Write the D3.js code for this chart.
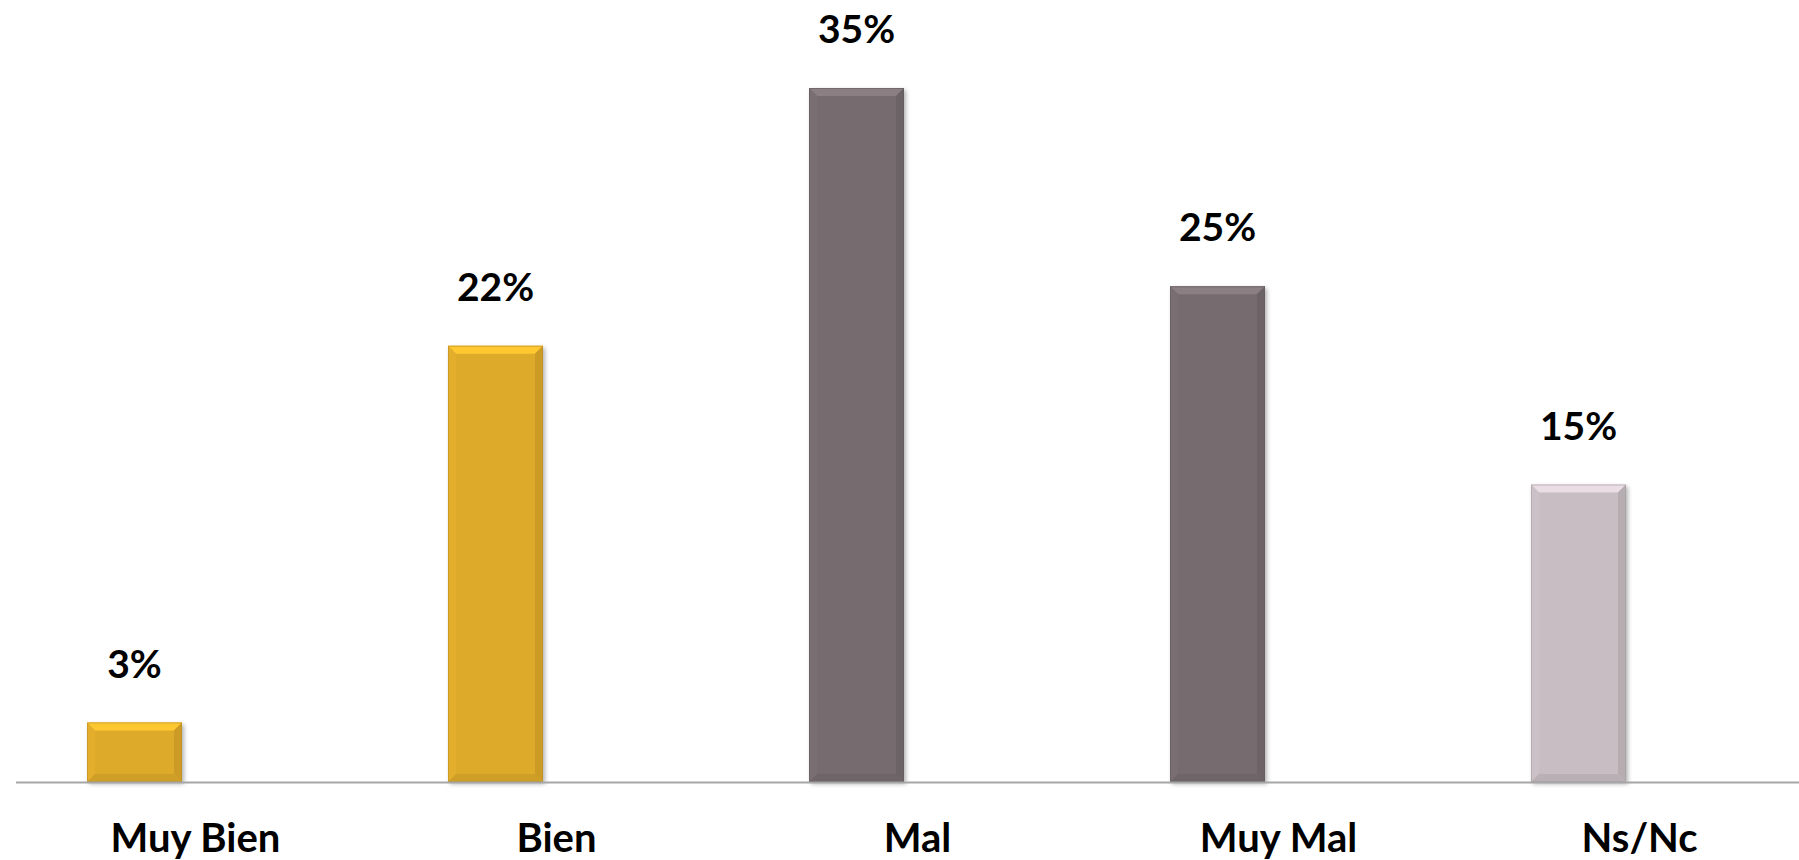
<!DOCTYPE html>
<html>
<head>
<meta charset="utf-8">
<script src="https://cdn.jsdelivr.net/npm/d3@7"></script>
<style>
  html, body { margin: 0; padding: 0; background: #fff; }
  svg { display: block; }
  text { font-family: Lato, "Open Sans", sans-serif; font-weight: bold; fill: #000; }
</style>
</head>
<body>
<script>
const categories = ["Muy Bien", "Bien", "Mal", "Muy Mal", "Ns/Nc"];
const values = [3, 22, 35, 25, 15];
const valueLabels = ["3%", "22%", "35%", "25%", "15%"];
const barColors = ["#DEAA2A", "#DEAA2A", "#766C70", "#766C70", "#C7BDC2"];

const W = 1799, H = 860;
const svg = d3.select("body").append("svg").attr("width", W).attr("height", H);

const baseY = 782;
const x = d3.scaleBand().domain(categories).range([15, 1820]).padding(0);
const barW = 95;
const barShift = -61; // bars sit left of the category centre
const y = d3.scaleLinear().domain([0, 35]).range([baseY, 88]);

const defs = svg.append("defs");
const f = defs.append("filter").attr("id", "sh").attr("x", "-20%").attr("y", "-5%").attr("width", "140%").attr("height", "115%");
f.append("feDropShadow").attr("dx", 2).attr("dy", 2).attr("stdDeviation", 2).attr("flood-color", "#000").attr("flood-opacity", 0.3);

const bevel = 8;
const g = svg.append("g");
categories.forEach((c, i) => {
  const cx = x(c) + x.bandwidth() / 2 + barShift;
  const x0 = cx - barW / 2, x1 = cx + barW / 2;
  const y0 = y(values[i]), y1 = y(0);
  const base = d3.color(barColors[i]);
  const bg = g.append("g");
  bg.append("rect").attr("x", x0).attr("y", y0).attr("width", barW).attr("height", y1 - y0)
    .attr("fill", barColors[i]).attr("filter", "url(#sh)");
  const bv = Math.min(bevel, (y1 - y0) / 2);
  bg.append("polygon").attr("points", [[x0, y0], [x1, y0], [x1 - bv, y0 + bv], [x0 + bv, y0 + bv]].join(" "))
    .attr("fill", base.brighter(0.45).formatHex());
  bg.append("polygon").attr("points", [[x0, y0], [x0 + bv, y0 + bv], [x0 + bv, y1 - bv], [x0, y1]].join(" "))
    .attr("fill", base.brighter(0.06).formatHex());
  bg.append("polygon").attr("points", [[x1, y0], [x1, y1], [x1 - bv, y1 - bv], [x1 - bv, y0 + bv]].join(" "))
    .attr("fill", base.darker(0.25).formatHex());
  bg.append("polygon").attr("points", [[x0, y1], [x0 + bv, y1 - bv], [x1 - bv, y1 - bv], [x1, y1]].join(" "))
    .attr("fill", base.darker(0.2).formatHex());
  bg.append("rect").attr("x", x0 + 0.5).attr("y", y0 + 0.5).attr("width", barW - 1).attr("height", y1 - y0 - 1)
    .attr("fill", "none").attr("stroke", base.darker(0.5).formatHex()).attr("stroke-width", 1).attr("opacity", 0.6);

  g.append("text").attr("x", cx).attr("y", y0 - 45).attr("text-anchor", "middle")
    .style("font-size", "39px").text(valueLabels[i]);
});

const axis = d3.axisBottom(x).tickSize(0).tickPadding(0);
const ax = svg.append("g").attr("transform", `translate(0,${baseY})`).call(axis);
ax.select(".domain").attr("d", `M16,0.5H${W}`).attr("stroke", "#A6A6A6").attr("stroke-width", 2);
ax.selectAll(".tick text").attr("y", 70).attr("dy", 0)
  .style("font-size", "40px").style("font-family", "Lato, sans-serif").style("font-weight", "bold").attr("fill", "#000");
</script>
</body>
</html>
